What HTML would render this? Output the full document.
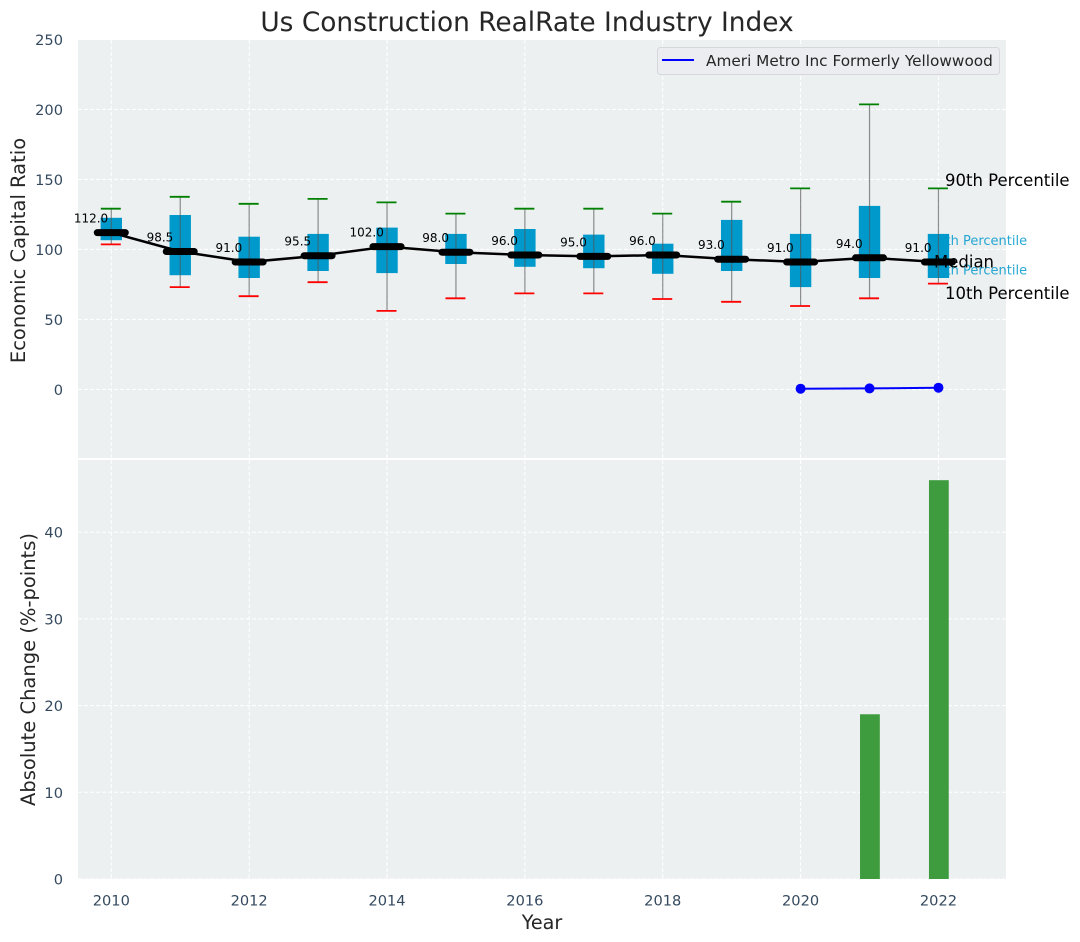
<!DOCTYPE html>
<html lang="en">
<head>
<meta charset="utf-8">
<title>Us Construction RealRate Industry Index</title>
<style>
html,body{margin:0;padding:0;background:#fff;width:1080px;height:942px;overflow:hidden}
svg{display:block;font-family:"DejaVu Sans","Liberation Sans",sans-serif}
</style>
</head>
<body>
<svg id="chart" xmlns="http://www.w3.org/2000/svg" width="1080" height="942" viewBox="0 0 1080 942"></svg>
<script>
const years = [2010,2011,2012,2013,2014,2015,2016,2017,2018,2019,2020,2021,2022];
const p90 = [129.5,138,133,136.5,134,126,129.5,129.5,126,134.5,144,204,144];
const p75 = [123,125,109.5,111.5,116,111.5,115,111,104.5,121.5,111.5,131.5,111.5];
const median = [112,98.5,91,95.5,102,98,96,95,96,93,91,94,91];
const p25 = [107,82,80,85,83.5,90,88,87,83,85,73.5,80,80];
const p10 = [104,73.5,67,77,56.5,65.5,69,69,65,63,60,65.5,76];
const companyYears = [2020,2021,2022];
const companyValues = [0.5,0.7,1.2];
const changeYears = [2021,2022];
const changeValues = [19,46];
const xTicks = [2010,2012,2014,2016,2018,2020,2022];
const topTicks = [0,50,100,150,200,250];
const bottomTicks = [0,10,20,30,40];

const NS = 'http://www.w3.org/2000/svg';
const svg = document.getElementById('chart');
const L = 78, R = 1006, T1 = 40, B1 = 458, T2 = 460, B2 = 879;
const x = v => 111.3 + (v - 2010) * 68.93;
const y1 = v => 389.4 - v * 1.4;
const yBox = v => 390 - v * 1.4;
const y2 = v => 879 - v * 8.67;

function el(tag, attrs, text) {
  const e = document.createElementNS(NS, tag);
  for (const k in attrs) e.setAttribute(k, attrs[k]);
  if (text !== undefined) e.textContent = text;
  svg.appendChild(e);
  return e;
}
let n;

n = el('rect', {x:L, y:T1, width:R-L, height:B1-T1, fill:'#ecf0f1'});


n = el('rect', {x:L, y:T2, width:R-L, height:B2-T2, fill:'#ecf0f1'});



xTicks.forEach(t => {
  n = el('line', {x1:x(t), x2:x(t), y1:T1, y2:B1, stroke:'#fff', 'stroke-width':1, 'stroke-dasharray':'4 2'});
  
  
  n = el('line', {x1:x(t), x2:x(t), y1:T2, y2:B2, stroke:'#fff', 'stroke-width':1, 'stroke-dasharray':'4 2'});
  
  
  n = el('text', {x:x(t), y:905.5, 'text-anchor':'middle', 'font-size':14.6, fill:'#34495e'}, String(t));
  
  
});
topTicks.forEach(t => {
  n = el('line', {x1:L, x2:R, y1:y1(t), y2:y1(t), stroke:'#fff', 'stroke-width':1, 'stroke-dasharray':'4 2'});
  
  
  n = el('text', {x:63, y:y1(t)+5.5, 'text-anchor':'end', 'font-size':14.6, fill:'#34495e'}, String(t));
  
  
});
bottomTicks.forEach(t => {
  n = el('line', {x1:L, x2:R, y1:y2(t), y2:y2(t), stroke:'#fff', 'stroke-width':1, 'stroke-dasharray':'4 2'});
  
  
  n = el('text', {x:63, y:y2(t)+5.5, 'text-anchor':'end', 'font-size':14.6, fill:'#34495e'}, String(t));
  
  
});

const last = years.length - 1;
n = el('text', {x:x(2022)-9.5, y:y1(p75[last])+11.5, 'font-size':13, fill:'#0099cc', 'fill-opacity':0.85}, '75th Percentile');


n = el('text', {x:x(2022)-9.5, y:y1(p25[last])-3, 'font-size':13, fill:'#0099cc', 'fill-opacity':0.85}, '25th Percentile');



years.forEach((yr, i) => {
  n = el('rect', {x:x(yr)-10.7, y:yBox(p75[i]), width:21.4, height:yBox(p25[i])-yBox(p75[i]), fill:'#0099cc'});
  
  
  n = el('line', {x1:x(yr), x2:x(yr), y1:yBox(p90[i]), y2:yBox(p10[i]), stroke:'#555', 'stroke-opacity':0.65, 'stroke-width':1.2});
  
  
  n = el('line', {x1:x(yr)-10.5, x2:x(yr)+9.5, y1:yBox(p90[i]), y2:yBox(p90[i]), stroke:'#008000', 'stroke-width':1.8});
  
  
  n = el('line', {x1:x(yr)-10.5, x2:x(yr)+9.5, y1:yBox(p10[i]), y2:yBox(p10[i]), stroke:'#ff0000', 'stroke-width':1.8});
  
  
});

n = el('polyline', {points:years.map((yr,i)=>x(yr)+','+y1(median[i])).join(' '), fill:'none', stroke:'#000', 'stroke-width':2.5});



years.forEach((yr, i) => {
  n = el('line', {x1:x(yr)-14, x2:x(yr)+14, y1:y1(median[i]), y2:y1(median[i]), stroke:'#000', 'stroke-width':7, 'stroke-linecap':'round'});
  
  
  n = el('text', {x:x(yr)-20.3, y:y1(median[i])-10, 'text-anchor':'middle', 'font-size':12, fill:'#000'}, median[i].toFixed(1));
  
  
});

n = el('polyline', {points:companyYears.map((yr,i)=>x(yr)+','+y1(companyValues[i])).join(' '), fill:'none', stroke:'#0000ff', 'stroke-width':2});


companyYears.forEach((yr, i) => {
  n = el('circle', {cx:x(yr), cy:y1(companyValues[i]), r:5, fill:'#0000ff'});
  
  
});

changeYears.forEach((yr, i) => {
  n = el('rect', {x:x(yr)-9.5, y:y2(changeValues[i]), width:19.8, height:y2(0)-y2(changeValues[i]), fill:'#3e9c3f'});
  
  
});

n = el('text', {x:945, y:y1(p90[last])-2, 'font-size':16.5, fill:'#000'}, '90th Percentile');


n = el('text', {x:934, y:y1(median[last])+5.5, 'font-size':16.5, fill:'#000'}, 'Median');


n = el('text', {x:945, y:y1(p10[last])+16, 'font-size':16.5, fill:'#000'}, '10th Percentile');



n = el('rect', {x:657.5, y:47.5, width:342, height:27, rx:3, fill:'#ebedf1', stroke:'#d5d7da', 'stroke-width':1});


n = el('line', {x1:662, x2:694, y1:60, y2:60, stroke:'#0000ff', 'stroke-width':2});


n = el('text', {x:706, y:66, 'font-size':15.3, fill:'#262626'}, 'Ameri Metro Inc Formerly Yellowwood');



n = el('text', {x:527, y:31, 'text-anchor':'middle', 'font-size':26.4, fill:'#262626'}, 'Us Construction RealRate Industry Index');


n = el('text', {x:542, y:929, 'text-anchor':'middle', 'font-size':19.2, fill:'#262626'}, 'Year');


n = el('text', {'text-anchor':'middle', 'font-size':19.5, fill:'#262626', transform:'translate(25,250.5) rotate(-90)'}, 'Economic Capital Ratio');


n = el('text', {'text-anchor':'middle', 'font-size':19.5, fill:'#262626', transform:'translate(35,669.5) rotate(-90)'}, 'Absolute Change (%-points)');


</script>
</body>
</html>
